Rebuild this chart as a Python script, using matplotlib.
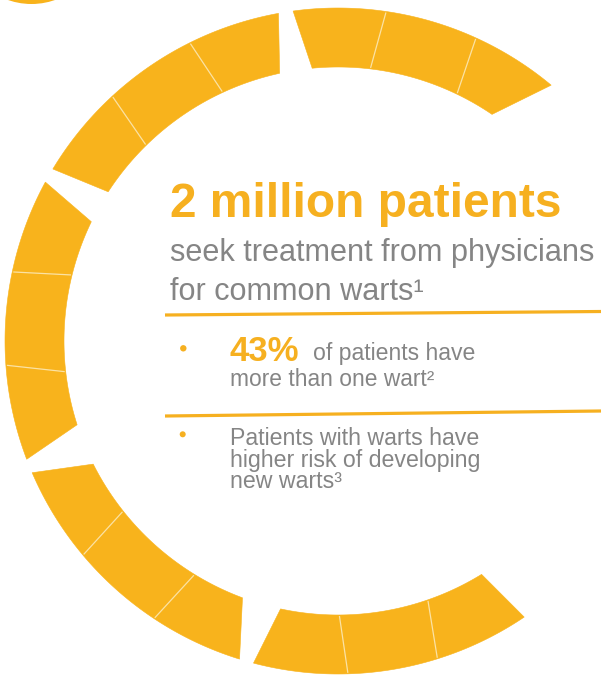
import numpy as np
import matplotlib
matplotlib.use("Agg")
import matplotlib.pyplot as plt
from matplotlib.patches import Polygon, Circle

# Ring: five arcs of three tiles each (angles in degrees, counter-clockwise)
outer_edges = [
    [50.2, 65.5, 81.7, 97.75],
    [100.3, 116.4, 132.7, 148.9],
    [151.5, 168.0, 184.2, 200.8],
    [203.3, 220.0, 236.5, 252.8],
    [255.3, 271.7, 287.4, 304.0],
]
inner_edges = [
    [55.8, 64.3, 83.2, 95.4],
    [102.3, 114.9, 134.4, 147.0],
    [154.2, 166.1, 186.4, 197.8],
    [206.7, 218.4, 238.4, 249.6],
    [257.9, 270.3, 289.1, 301.6],
]

headline = "2 million patients"
sub_lines = ["seek treatment from physicians", "for common warts\u00b9"]
stat_value = "43%"
stat_rest = "of patients have"
stat_line2 = "more than one wart\u00b2"
risk_lines = ["Patients with warts have", "higher risk of developing", "new warts\u00b3"]

ORANGE = "#F8B31C"
TEXT_ORANGE = "#F6B020"
GREY = "#858585"
SEAM = "#FBE2A4"

CX, CY = 338.0, 341.0
R_OUT, R_IN = 333.0, 274.0


def pt(angle_deg, r):
    a = np.radians(angle_deg)
    return CX + r * np.cos(a), CY - r * np.sin(a)


def arc(a0, a1, r, n=80):
    a = np.radians(np.linspace(a0, a1, n))
    return np.column_stack([CX + r * np.cos(a), CY - r * np.sin(a)])


fig = plt.figure(figsize=(6.02, 6.80), dpi=100)
ax = fig.add_axes([0, 0, 1, 1])
ax.set_xlim(0, 602)
ax.set_ylim(680, 0)
ax.set_aspect("equal")
ax.axis("off")

for outs, ins in zip(outer_edges, inner_edges):
    outer = arc(outs[0], outs[-1], R_OUT)
    inner = arc(ins[-1], ins[0], R_IN)
    ax.add_patch(Polygon(np.vstack([outer, inner]), closed=True,
                         facecolor=ORANGE, edgecolor=ORANGE, lw=0.4))
    for ao, ai in zip(outs[1:-1], ins[1:-1]):
        x0, y0 = pt(ao, R_OUT - 1)
        x1, y1 = pt(ai, R_IN + 1)
        ax.plot([x0, x1], [y0, y1], color=SEAM, lw=0.9, solid_capstyle="butt")

# partial disc peeking in at the top-left corner
ax.add_patch(Circle((31.5, -67), 71, facecolor=ORANGE, edgecolor="none"))

FONT = "Liberation Sans"

ax.text(170, 217, headline, fontsize=34.5, fontweight="bold", color=TEXT_ORANGE,
        family=FONT, va="baseline", ha="left")
ax.text(170, 261, sub_lines[0], fontsize=22.1, color=GREY, family=FONT,
        va="baseline", ha="left")
ax.text(170, 299.5, sub_lines[1], fontsize=22.1, color=GREY, family=FONT,
        va="baseline", ha="left")

ax.plot([165, 601], [315, 311.5], color=TEXT_ORANGE, lw=2.3, solid_capstyle="butt")
ax.plot([165, 601], [416, 411], color=TEXT_ORANGE, lw=2.3, solid_capstyle="butt")

# first bullet
ax.add_patch(Circle((183.3, 348.3), 3.2, facecolor=TEXT_ORANGE, edgecolor="none"))
ax.text(230, 361, stat_value, fontsize=25, fontweight="bold",
        color=TEXT_ORANGE, family=FONT, va="baseline", ha="left")
ax.text(313, 360, stat_rest, fontsize=16.6, color=GREY, family=FONT,
        va="baseline", ha="left")
ax.text(230, 386, stat_line2, fontsize=16.4, color=GREY, family=FONT,
        va="baseline", ha="left")

# second bullet
ax.add_patch(Circle((182.7, 434.3), 3.0, facecolor=TEXT_ORANGE, edgecolor="none"))
for i, line in enumerate(risk_lines):
    ax.text(230, 445 + i * 21.7, line, fontsize=16.7, color=GREY, family=FONT,
            va="baseline", ha="left")

fig.savefig("out.png", dpi=100, facecolor="white")
